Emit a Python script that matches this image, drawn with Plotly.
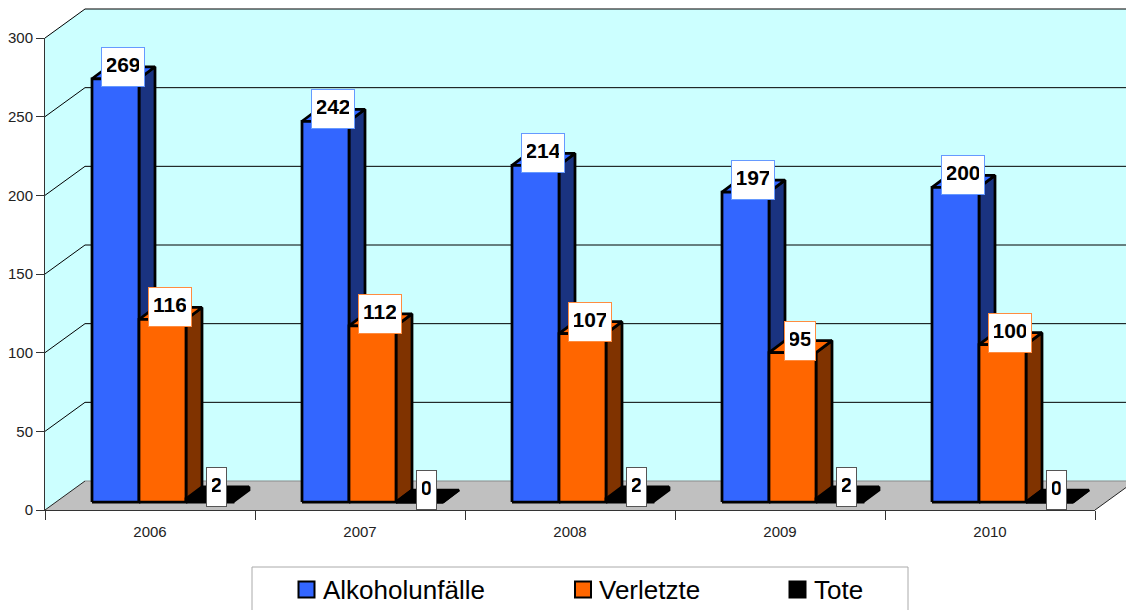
import plotly.graph_objects as go

categories = ["2006", "2007", "2008", "2009", "2010"]
alkoholunfaelle = [269, 242, 214, 197, 200]
verletzte = [116, 112, 107, 95, 100]
tote = [2, 0, 2, 2, 0]
y_ticks = [0, 50, 100, 150, 200, 250, 300]

series = [
    ("Alkoholunfälle", alkoholunfaelle, "#3366FF", "#1A3380", "#6699FF"),
    ("Verletzte", verletzte, "#FF6600", "#803300", "#FF8C40"),
    ("Tote", tote, "#000000", "#000000", "#555555"),
]

# page geometry (pixels)
W, H = 1126, 610
AX_L, AX_R, AX_B, AX_T = 45, 1095, 510, 38
SX = (AX_R - AX_L) / len(categories)      # px per category
SY = (AX_B - AX_T) / 300                  # px per value unit
to_x = lambda px: px / SX
to_y = lambda px: px / SY

WALL_DX, WALL_DY = to_x(40), to_y(29)
BASE_DY = to_y(8)
BAR_W = to_x(47)
FIRST_BAR = to_x(47)
BAR_DX, BAR_DY = to_x(16), to_y(12)
LAB_DX, LAB_DY = to_x(7), to_y(12)
x_lo, x_hi = -0.5, len(categories) - 0.5
page_x = lambda px: x_lo + to_x(px - AX_L)
page_y = lambda py: to_y(AX_B - py)

fig = go.Figure()


def poly(xs, ys, fill, lw=0, lc="#000000"):
    fig.add_trace(go.Scatter(
        x=xs, y=ys, mode="lines", fill="toself" if fill else "none",
        fillcolor=fill, line=dict(color=lc, width=lw, simplify=False),
        hoverinfo="skip", showlegend=False, xaxis="x", yaxis="y"))


# walls and floor
far = x_hi + to_x(60)
poly([x_lo, x_lo + WALL_DX, x_lo + WALL_DX, x_lo],
     [0, WALL_DY, 300 + WALL_DY, 300], "#CCFFFF")
poly([x_lo + WALL_DX, far, far, x_lo + WALL_DX],
     [WALL_DY, WALL_DY, 300 + WALL_DY, 300 + WALL_DY], "#CCFFFF")
poly([x_lo, x_hi, x_hi + WALL_DX, far, far, x_lo + WALL_DX],
     [0, 0, WALL_DY, WALL_DY, WALL_DY, WALL_DY], "#C0C0C0")

# gridlines
for t in y_ticks[1:]:
    poly([x_lo, x_lo + WALL_DX, far], [t, t + WALL_DY, t + WALL_DY], None, 1, "#000000")
poly([x_lo, x_lo + WALL_DX], [0, WALL_DY], None, 1, "#222222")
poly([x_lo + WALL_DX, far], [WALL_DY, WALL_DY], None, 1, "#8A8A8A")
poly([x_hi, x_hi + WALL_DX], [0, WALL_DY], None, 1, "#222222")

# bars: side, top and front faces from the values
for k, (name, vals, front, side, _) in enumerate(series):
    sx, sy, tx, ty, fx, fy = [], [], [], [], [], []
    for i, v in enumerate(vals):
        l = i - 0.5 + FIRST_BAR + k * BAR_W
        r = l + BAR_W
        b = BASE_DY
        h = b + v
        sx += [r, r + BAR_DX, r + BAR_DX, r, r, None]
        sy += [b, b + BAR_DY, h + BAR_DY, h, b, None]
        tx += [l, l + BAR_DX, r + BAR_DX, r, l, None]
        ty += [h, h + BAR_DY, h + BAR_DY, h, h, None]
        fx += [l, r, r, l, l, None]
        fy += [b, b, h, h, b, None]
    poly(sx, sy, side, 2.75)
    poly(tx, ty, front, 2.75)
    poly(fx, fy, front, 2.75)

# carrier of the visible axes
fig.add_trace(go.Scatter(x=categories, y=[None] * len(categories), mode="markers",
                         xaxis="x2", yaxis="y2", showlegend=False, hoverinfo="skip"))

# data labels
annotations = []
for k, (name, vals, front, side, edge) in enumerate(series):
    for i, v in enumerate(vals):
        txt = str(v)
        annotations.append(dict(
            x=i - 0.5 + FIRST_BAR + k * BAR_W + BAR_W / 2 + LAB_DX,
            y=BASE_DY + v + LAB_DY,
            xref="x", yref="y", text="<b>%s</b>" % txt, showarrow=False,
            font=dict(family="Liberation Sans", size=21, color="#000000"),
            bgcolor="#FFFFFF", bordercolor=edge, borderwidth=1, borderpad=5,
            width=len(txt) * 11.7 - 3, height=28, align="center", valign="top",
            xanchor="center", yanchor="middle"))

# legend box, keys and texts
legend_keys = [306.5, 583, 797.5]
legend_texts = [322, 598, 813]
LEGEND_Y = 589.5
for (name, vals, front, side, _), kx, tx in zip(series, legend_keys, legend_texts):
    fig.add_trace(go.Scatter(
        x=[page_x(kx)], y=[page_y(LEGEND_Y)], mode="markers", name=name,
        marker=dict(symbol="square", size=16, color=front, line=dict(color="#000000", width=2)),
        xaxis="x", yaxis="y", hoverinfo="skip", showlegend=False))
    annotations.append(dict(
        x=page_x(tx), y=page_y(LEGEND_Y), xref="x", yref="y", text=name, showarrow=False,
        font=dict(family="Liberation Sans", size=26, color="#000000"),
        xanchor="left", yanchor="middle", borderpad=0))

axis_font = dict(family="Liberation Sans", size=15, color="#222222")
fig.update_layout(
    width=W, height=H, margin=dict(l=0, r=0, t=0, b=0, autoexpand=False),
    paper_bgcolor="#FFFFFF", plot_bgcolor="rgba(0,0,0,0)",
    font=dict(family="Liberation Sans"),
    xaxis=dict(domain=[0, 1], range=[page_x(0), page_x(W)], visible=False, fixedrange=True),
    yaxis=dict(domain=[0, 1], range=[page_y(H), page_y(0)], visible=False, fixedrange=True),
    xaxis2=dict(domain=[AX_L / W, AX_R / W], anchor="y2", type="category",
                categoryorder="array", categoryarray=categories,
                range=[x_lo, x_hi], tickson="boundaries", ticks="outside", ticklen=9,
                ticklabelstandoff=8,
                tickcolor="#333333", showline=True, linecolor="#333333", linewidth=1,
                showgrid=False, zeroline=False, tickfont=axis_font, fixedrange=True),
    yaxis2=dict(domain=[(H - AX_B) / H, (H - AX_T) / H], anchor="x2", range=[0, 300],
                tickvals=y_ticks, ticks="outside", ticklen=8, tickcolor="#333333",
                showline=True, linecolor="#333333", linewidth=1, showgrid=False,
                zeroline=False, tickfont=axis_font, fixedrange=True),
    showlegend=False,
    shapes=[dict(type="rect", xref="paper", yref="paper", x0=252 / W, x1=908 / W,
                 y0=-0.1, y1=(H - 567) / H, line=dict(color="#AAAAAA", width=1),
                 fillcolor="#FFFFFF", layer="below")],
    annotations=annotations,
)

fig.write_html("out.html", post_script="document.body.style.margin='0';",
               config={"displayModeBar": False})
